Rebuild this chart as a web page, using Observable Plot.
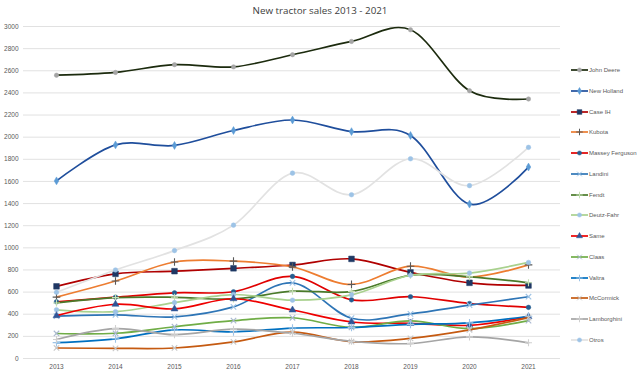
<!DOCTYPE html>
<html>
<head>
<meta charset="utf-8">
<script src="https://cdn.jsdelivr.net/npm/d3@7"></script>
<script src="https://cdn.jsdelivr.net/npm/@observablehq/plot@0.6"></script>
<style>
  html, body { margin: 0; padding: 0; background: #fff; }
  #wrap { position: relative; width: 640px; height: 376px; font-family: "Liberation Sans", Arial, sans-serif; }
  #title { position: absolute; left: 0; width: 640px; top: 4px; text-align: center; font-size: 9.8px; color: #404040; font-family: "Open Sans", sans-serif; }
  #legend { position: absolute; left: 571px; top: 0; }
  .item { position: absolute; display: flex; align-items: center; white-space: nowrap; font-size: 6px; color: #595959; }
  .item svg { margin-right: 1px; }
</style>
</head>
<body>
<div id="wrap">
  <div id="chart"></div>
  <div id="title">New tractor sales 2013 - 2021</div>
  <div id="legend"></div>
</div>
<script>
const years = [2013, 2014, 2015, 2016, 2017, 2018, 2019, 2020, 2021];

const johnDeere      = [2560, 2585, 2655, 2635, 2745, 2865, 2970, 2420, 2345];
const newHolland     = [1605, 1930, 1925, 2060, 2155, 2050, 2015, 1395, 1730];
const caseIH         = [652, 765, 789, 815, 845, 900, 778, 684, 660];
const kubota         = [555, 700, 872, 880, 828, 669, 834, 735, 846];
const masseyFerguson = [512, 554, 593, 603, 742, 530, 558, 497, 462];
const landini        = [383, 395, 376, 466, 683, 364, 404, 482, 558];
const fendt          = [502, 550, 553, 538, 608, 605, 752, 738, 684];
const deutzFahr      = [440, 423, 505, 578, 527, 575, 752, 772, 868];
const same           = [387, 490, 448, 540, 438, 330, 318, 300, 378];
const claas          = [226, 228, 287, 342, 368, 282, 340, 270, 342];
const valtra         = [143, 178, 258, 240, 275, 280, 308, 322, 382];
const mcCormick      = [95, 92, 95, 150, 238, 152, 182, 258, 370];
const lamborghini    = [172, 270, 215, 265, 228, 155, 135, 195, 142];
const otros          = [598, 800, 975, 1205, 1675, 1480, 1805, 1562, 1908];

const seriesNames = ["John Deere", "New Holland", "Case IH", "Kubota", "Massey Ferguson", "Landini", "Fendt", "Deutz-Fahr", "Same", "Claas", "Valtra", "McCormick", "Lamborghini", "Otros"];
const seriesValues = [johnDeere, newHolland, caseIH, kubota, masseyFerguson, landini, fendt, deutzFahr, same, claas, valtra, mcCormick, lamborghini, otros];

const yTicks = d3.range(0, 3001, 200);

// styles: line color, marker symbol, marker color, filled?, marker radius
const styles = [
  {line: "#1c2b0e", sym: "circle",   mc: "#a5a5a5", fill: true,  r: 2.2},
  {line: "#1f4e9c", sym: "diamond",  mc: "#5b9bd5", fill: true,  r: 2.4},
  {line: "#b00000", sym: "square",   mc: "#1f3864", fill: true,  r: 3.2},
  {line: "#ed7d31", sym: "plus",     mc: "#595959", fill: false, r: 2.6},
  {line: "#e00000", sym: "circle",   mc: "#255e91", fill: true,  r: 2.3},
  {line: "#2e75b6", sym: "times",    mc: "#9dc3e6", fill: false, r: 2.6},
  {line: "#4a7a2a", sym: "plus",     mc: "#c5e0b4", fill: false, r: 2.4},
  {line: "#a9d18e", sym: "circle",   mc: "#9dc3e6", fill: true,  r: 2.3},
  {line: "#ee0000", sym: "triangle", mc: "#2f5597", fill: true,  r: 2.6},
  {line: "#70ad47", sym: "times",    mc: "#a9b8d0", fill: false, r: 2.6},
  {line: "#0070c0", sym: "plus",     mc: "#9dc3e6", fill: false, r: 2.6},
  {line: "#c55a11", sym: "times",    mc: "#c9c9c9", fill: false, r: 2.6},
  {line: "#a5a5a5", sym: "plus",     mc: "#d0d0d0", fill: false, r: 2.4},
  {line: "#e2e2e2", sym: "circle",   mc: "#9dc3e6", fill: true,  r: 2.3}
];

const marks = [
  Plot.gridY(yTicks, {stroke: "#d9d9d9", strokeOpacity: 1, strokeWidth: 0.8}),
  Plot.axisY(yTicks, {tickSize: 0, tickPadding: 5, fontSize: 6.5, fill: "#595959", label: null, tickFormat: d => String(d)}),
  Plot.axisX({tickSize: 0, tickPadding: 6, fontSize: 6.5, fill: "#595959", label: null, tickFormat: d => String(d)})
];

seriesNames.forEach((name, i) => {
  const data = years.map((yr, j) => ({year: yr, value: seriesValues[i][j]}));
  const s = styles[i];
  marks.push(Plot.line(data, {x: "year", y: "value", stroke: s.line, strokeWidth: 1.7, curve: "cardinal"}));
  marks.push(Plot.dot(data, {
    x: "year", y: "value", symbol: s.sym, r: s.r,
    fill: s.fill ? s.mc : "none",
    stroke: s.mc, strokeWidth: s.fill ? 0.5 : 1.1
  }));
});

const chart = Plot.plot({
  width: 640,
  height: 376,
  marginTop: 26,
  marginBottom: 18,
  marginLeft: 23,
  marginRight: 80,
  style: {fontFamily: "Liberation Sans, Arial, sans-serif", background: "#fff"},
  x: {type: "point", domain: years, padding: 0.5},
  y: {domain: [0, 3000]},
  marks
});
document.getElementById("chart").appendChild(chart);

// Legend
const legend = document.getElementById("legend");
const symbolPaths = {
  circle: d3.symbol(d3.symbolCircle, 14)(),
  diamond: d3.symbol(d3.symbolDiamond, 14)(),
  square: d3.symbol(d3.symbolSquare, 22)(),
  plus: d3.symbol(d3.symbolPlus, 16)(),
  triangle: d3.symbol(d3.symbolTriangle, 16)(),
  times: d3.symbol(d3.symbolTimes, 16)()
};
seriesNames.forEach((name, i) => {
  const s = styles[i];
  const div = document.createElement("div");
  div.className = "item";
  div.style.top = (66 + i * 20.75) + "px";
  const fill = s.fill ? s.mc : "none";
  div.innerHTML = `<svg width="17" height="8"><line x1="0" x2="17" y1="4" y2="4" stroke="${s.line}" stroke-width="1.7"/>` +
    `<path transform="translate(8.5,4)" d="${symbolPaths[s.sym]}" fill="${fill}" stroke="${s.mc}" stroke-width="${s.fill ? 0.5 : 1}"/></svg>` +
    `<span>${name}</span>`;
  legend.appendChild(div);
});
</script>
</body>
</html>
